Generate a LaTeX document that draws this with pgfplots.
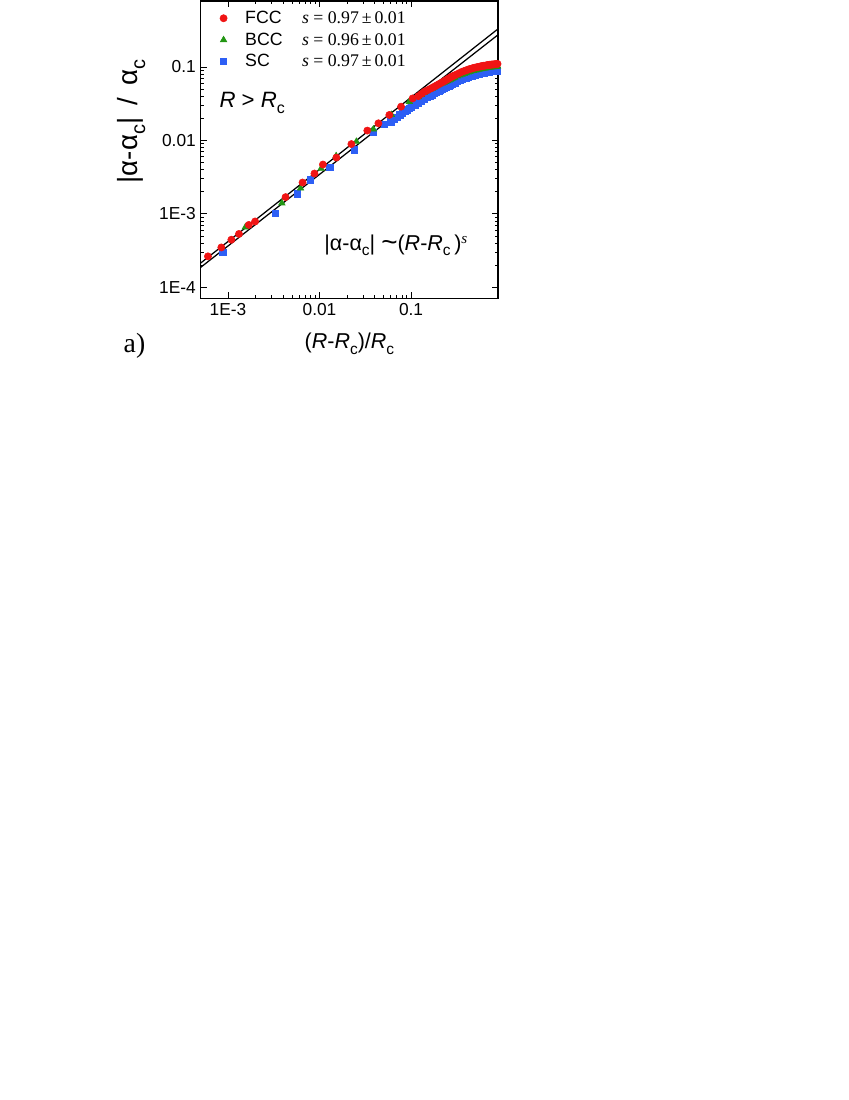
\documentclass[border=0pt]{standalone}
\usepackage{fontspec}
\setmainfont{Liberation Sans}
\newfontfamily\tnr{Liberation Serif}
\usepackage{graphicx}
\usepackage{pgfplots}
\pgfplotsset{compat=1.18}
\definecolor{fccred}{RGB}{240,20,20}
\definecolor{bccgreen}{RGB}{35,150,20}
\definecolor{scblue}{RGB}{45,95,245}
% deep subscript as in the original figure
\newcommand\sub[1]{\raisebox{-0.5ex}{\scalebox{0.72}{#1}}}

\begin{document}
\begin{tikzpicture}
% page of 850 x 1100 px, 1 px = 0.72bp
\begin{scope}[x=0.72bp,y=-0.72bp]
\path[use as bounding box] (0,0) rectangle (850,1100);
\end{scope}
\begin{axis}[
  at={(144.72bp,-213.84bp)}, anchor=south west,
  scale only axis, width=214.56bp, height=214.56bp,
  xmode=log, ymode=log,
  xmin=5.04e-4, xmax=0.895, ymin=7.09e-5, ymax=0.796,
  xtick={0.001,0.01,0.1}, xticklabels={1E-3,0.01,0.1},
  ytick={0.0001,0.001,0.01,0.1}, yticklabels={1E-4,1E-3,0.01,0.1},
  tick align=inside, major tick length=4.3bp, minor tick length=2.2bp,
  axis line style={line width=1.1bp},
  every tick/.style={black, line width=0.6bp},
  ticklabel style={font=\fontsize{12.5bp}{14bp}\selectfont},
  xlabel={(\textit{R}-\textit{R}\sub{c})/\textit{R}\sub{c}},
  ylabel={|α-α\sub{c}|\, /\, α\sub{c}},
  xlabel style={at={(axis description cs:0.5,-0.154)}, anchor=center,
    font=\fontsize{15.5bp}{17bp}\selectfont},
  ylabel style={at={(axis description cs:-0.2326,0.595)}, anchor=center,
    font=\fontsize{20bp}{22bp}\selectfont},
  legend style={at={(axis description cs:0.05,0.985)}, anchor=north west,
    draw=none, fill=none, font=\fontsize{12.8bp}{14bp}\selectfont,
    row sep=1.2bp, cells={anchor=west}},
  reverse legend,
]
% SC
\addplot[only marks, mark=square*, mark size=2.3bp, color=scblue] coordinates {
(8.81e-4,3.02e-4)(3.31e-3,1.02e-3)(5.71e-3,1.87e-3)(7.98e-3,2.90e-3)(1.29e-2,4.31e-3)
(2.41e-2,7.43e-3)(3.88e-2,1.29e-2)(5.12e-2,1.66e-2)
(0.06,0.0180)(0.065,0.0194)(0.07,0.0208)(0.075,0.0222)(0.08,0.0235)(0.085,0.0248)
(0.09,0.0260)(0.095,0.0273)(0.10,0.0285)(0.11,0.0305)
(0.12,0.0325)(0.13,0.0345)(0.14,0.0365)(0.15,0.0383)(0.16,0.0400)(0.17,0.0418)
(0.18,0.0435)(0.19,0.0452)(0.20,0.0470)(0.21,0.0486)
(0.22,0.0502)(0.23,0.0516)(0.24,0.0530)(0.25,0.0543)(0.26,0.0556)(0.27,0.0570)
(0.28,0.0584)(0.29,0.0597)(0.30,0.0610)
(0.32,0.0635)(0.34,0.0658)(0.36,0.0678)(0.38,0.0698)(0.40,0.0716)
(0.42,0.0732)(0.44,0.0746)(0.46,0.0759)(0.48,0.0771)(0.50,0.0782)
(0.52,0.0792)(0.54,0.0801)(0.56,0.0810)(0.58,0.0818)(0.60,0.0826)
(0.62,0.0833)(0.64,0.0840)(0.66,0.0846)(0.68,0.0852)(0.70,0.0857)
(0.72,0.0862)(0.74,0.0867)(0.76,0.0872)(0.78,0.0876)(0.80,0.0880)
(0.82,0.0884)(0.84,0.0888)(0.86,0.0891)(0.88,0.0894)(0.90,0.0897)
};
\addlegendentry{\hspace{11bp}\makebox[41bp][l]{SC}{\tnr\textit{s} = 0.97\,±\,0.01}}
% BCC
\addplot[only marks, mark=triangle*, mark size=2.7bp, color=bccgreen] coordinates {
(1.55e-3,6.59e-4)(3.88e-3,1.40e-3)(6.21e-3,2.23e-3)(1.04e-2,4.14e-3)(1.52e-2,6.15e-3)
(2.53e-2,9.64e-3)(3.88e-2,1.42e-2)(6.10e-2,2.24e-2)(9.57e-2,3.37e-2)
(0.12,0.039)(0.13,0.042)(0.14,0.045)(0.15,0.047)(0.16,0.049)(0.17,0.051)
(0.18,0.053)(0.19,0.055)(0.20,0.057)(0.21,0.0585)
(0.22,0.060)(0.23,0.0615)(0.24,0.063)(0.25,0.0645)(0.26,0.066)(0.27,0.0675)
(0.28,0.069)(0.29,0.0705)(0.30,0.072)
(0.32,0.075)(0.34,0.077)(0.36,0.079)(0.38,0.081)(0.40,0.083)
(0.42,0.085)(0.44,0.086)(0.46,0.088)(0.48,0.089)(0.50,0.090)
(0.52,0.091)(0.54,0.092)(0.56,0.093)(0.58,0.094)(0.60,0.095)
(0.62,0.096)(0.64,0.096)(0.66,0.097)(0.68,0.098)(0.70,0.098)
(0.72,0.099)(0.74,0.099)(0.76,0.100)(0.78,0.100)(0.80,0.100)
(0.82,0.101)(0.84,0.101)(0.86,0.101)(0.88,0.102)(0.90,0.102)
};
\addlegendentry{\hspace{11bp}\makebox[41bp][l]{BCC}{\tnr\textit{s} = 0.96\,±\,0.01}}
% FCC
\addplot[only marks, mark=*, mark size=2.6bp, color=fccred] coordinates {
(6.05e-4,2.64e-4)(8.47e-4,3.49e-4)(1.09e-3,4.45e-4)(1.32e-3,5.33e-4)(1.69e-3,7.07e-4)
(1.98e-3,7.88e-4)(4.26e-3,1.69e-3)(6.53e-3,2.67e-3)(8.81e-3,3.54e-3)(1.09e-2,4.69e-3)
(1.53e-2,5.84e-3)(2.23e-2,8.91e-3)(3.33e-2,1.36e-2)(4.40e-2,1.71e-2)(5.79e-2,2.22e-2)
(7.78e-2,2.88e-2)(0.104,3.73e-2)
(0.12,0.040)(0.13,0.043)(0.14,0.046)(0.15,0.048)(0.16,0.050)(0.17,0.052)
(0.18,0.054)(0.19,0.056)(0.20,0.058)(0.21,0.060)
(0.22,0.062)(0.23,0.064)(0.24,0.066)(0.25,0.068)(0.26,0.070)(0.27,0.072)
(0.28,0.074)(0.29,0.0755)(0.30,0.077)
(0.32,0.080)(0.34,0.083)(0.36,0.086)(0.38,0.088)(0.40,0.090)
(0.42,0.092)(0.44,0.094)(0.46,0.095)(0.48,0.097)(0.50,0.098)
(0.52,0.099)(0.54,0.100)(0.56,0.101)(0.58,0.102)(0.60,0.103)
(0.62,0.104)(0.64,0.104)(0.66,0.105)(0.68,0.106)(0.70,0.106)
(0.72,0.107)(0.74,0.107)(0.76,0.108)(0.78,0.108)(0.80,0.108)
(0.82,0.109)(0.84,0.109)(0.86,0.109)(0.88,0.110)(0.90,0.110)
};
\addlegendentry{\hspace{11bp}\makebox[41bp][l]{FCC}{\tnr\textit{s} = 0.97\,±\,0.01}}
% power-law fits
\addplot[black, line width=0.9bp, forget plot] coordinates {(5.04e-4,2.14e-4)(0.895,0.331)};
\addplot[black, line width=0.9bp, forget plot] coordinates {(5.04e-4,1.87e-4)(0.895,0.275)};
\end{axis}
\begin{scope}[x=0.72bp,y=-0.72bp]
\node[anchor=west, font=\fontsize{16bp}{18bp}\selectfont] at (215,101)
  {\textit{R} > \textit{R}\sub{c}};
\node[anchor=west, font=\fontsize{15.5bp}{17bp}\selectfont] at (320,244)
  {|α-α\sub{c}| \raisebox{-0.1ex}{\scalebox{1.3}{\textasciitilde}}(\textit{R}-\textit{R}\sub{c}\,)\textsuperscript{\tnr\itshape s}};
\node[anchor=west, font=\tnr\fontsize{20bp}{22bp}\selectfont] at (119,345) {a)};
\end{scope}
\end{tikzpicture}
\end{document}
